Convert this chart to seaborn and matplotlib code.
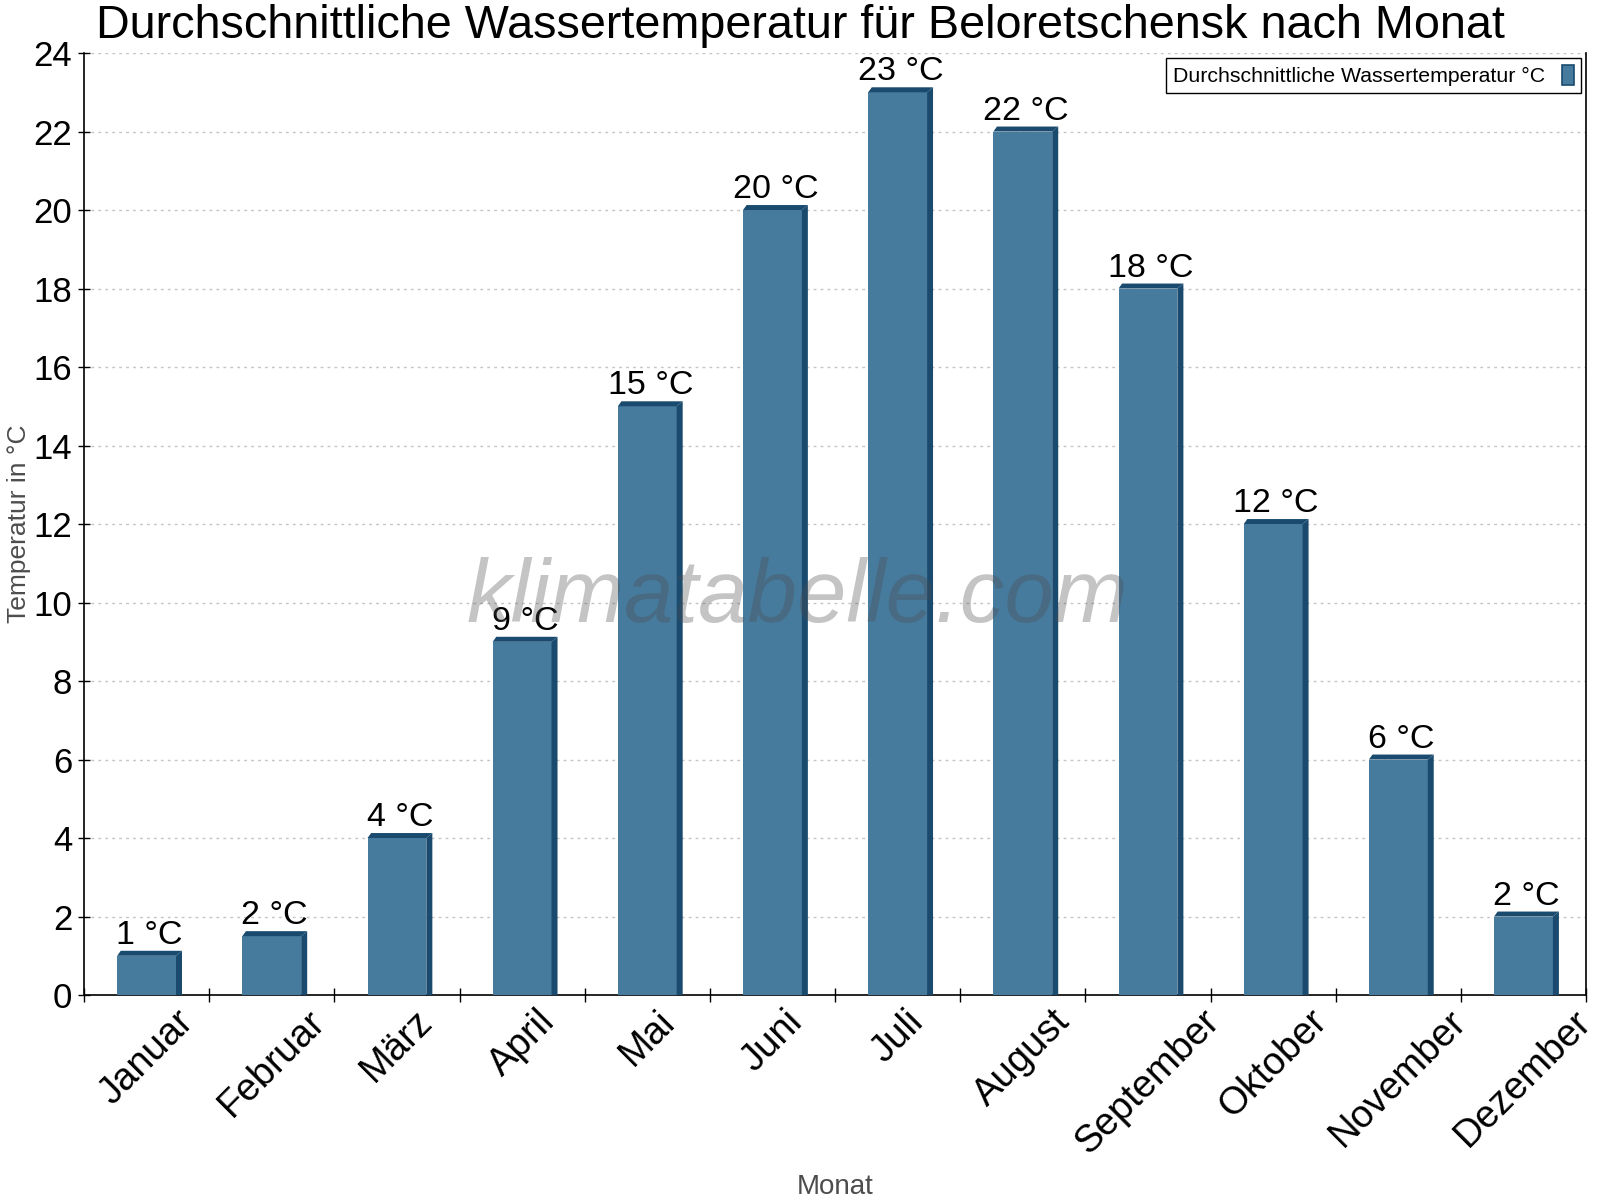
import numpy as np
import pandas as pd
import matplotlib
matplotlib.use("Agg")
import matplotlib.pyplot as plt
import seaborn as sns
from matplotlib.patches import Polygon, Patch

months = ["Januar", "Februar", "März", "April", "Mai", "Juni", "Juli",
          "August", "September", "Oktober", "November", "Dezember"]
water_temp = [1, 1.5, 4, 9, 15, 20, 23, 22, 18, 12, 6, 2]
bar_labels = ["1 °C", "2 °C", "4 °C", "9 °C", "15 °C", "20 °C", "23 °C",
              "22 °C", "18 °C", "12 °C", "6 °C", "2 °C"]
y_ticks = [0, 2, 4, 6, 8, 10, 12, 14, 16, 18, 20, 22, 24]

title = "Durchschnittliche Wassertemperatur für Beloretschensk nach Monat"
series_name = "Durchschnittliche Wassertemperatur °C"

FRONT = "#467B9E"
DARK = "#1A4B6E"

sns.set_theme(style="white")
plt.rcParams["font.family"] = ["Liberation Sans", "DejaVu Sans"]
plt.rcParams["text.color"] = "black"
plt.rcParams["xtick.color"] = "black"
plt.rcParams["ytick.color"] = "black"

df = pd.DataFrame({"Monat": months, "Temp": water_temp})

fig = plt.figure(figsize=(16, 12), dpi=100)
ax = fig.add_axes([0.0525, 0.1708, 0.9388, 0.785])

sns.barplot(data=df, x="Monat", y="Temp", color=FRONT, saturation=1,
            width=0.47, ax=ax, zorder=3, linewidth=0, edgecolor="none")

ax.set_xlim(-0.5, 11.5)
ax.set_ylim(0, 24)

# 3D effect: top and side faces derived from the drawn bars
fig.canvas.draw()
to_data = ax.transData.inverted()
(dx0, dy0) = to_data.transform((0, 0))
(dx1, dy1) = to_data.transform((6, 5))
dx = dx1 - dx0
dy = dy1 - dy0
for p in list(ax.patches):
    x0 = p.get_x()
    w = p.get_width()
    h = p.get_height()
    x1 = x0 + w
    top = Polygon([(x0, h), (x0 + dx * 0.6, h + dy), (x1 + dx, h + dy), (x1, h)],
                  closed=True, facecolor=DARK, edgecolor="none", zorder=3)
    side = Polygon([(x1, 0), (x1, h), (x1 + dx, h + dy), (x1 + dx, 0)],
                   closed=True, facecolor=DARK, edgecolor="none", zorder=3)
    ax.add_patch(top)
    ax.add_patch(side)

for i, (v, lab) in enumerate(zip(water_temp, bar_labels)):
    ax.annotate(lab, xy=(i, v), xytext=(3, 5), textcoords="offset pixels",
                ha="center", va="bottom", fontsize=24.5, color="black", zorder=5)

# grid
ax.set_yticks(y_ticks)
ax.yaxis.grid(True, color="#c4c4c4", linestyle=(0, (2, 3)), linewidth=1, zorder=0)
ax.xaxis.grid(False)
ax.set_axisbelow(True)

# spines
for s in ["left", "bottom", "right"]:
    ax.spines[s].set_visible(True)
    ax.spines[s].set_color("black")
    ax.spines[s].set_linewidth(1.2)
ax.spines["top"].set_visible(False)

# ticks
ax.tick_params(axis="y", which="major", direction="inout", length=9, width=1,
               color="black", labelcolor="black", labelsize=25, left=True, pad=4)
ax.tick_params(axis="x", which="major", length=0, labelsize=27.5, pad=6,
               labelcolor="black")
ax.set_xticks(np.arange(-0.5, 12, 1), minor=True)
ax.tick_params(axis="x", which="minor", direction="inout", length=10, width=1,
               color="black", bottom=True)
for t in ax.get_xticklabels():
    t.set_rotation(45)
    t.set_ha("center")

ax.set_xlabel("Monat", fontsize=20, color="#4d4d4d")
ax.set_ylabel("Temperatur in °C", fontsize=19, color="#4d4d4d")
ax.xaxis.set_label_coords(0.5, -0.19)
ax.yaxis.set_label_coords(-0.043, 0.5)
ax.yaxis.label.set_va("center")

fig.suptitle(title, x=0.5, y=0.997, va="top", fontsize=33.7, color="black")

# watermark
ax.text(0.475, 0.42, "klimatabelle.com", transform=ax.transAxes, fontsize=64,
        style="italic", color=(0.3, 0.3, 0.3), alpha=0.33, ha="center",
        va="center", zorder=6)

leg = ax.legend(handles=[Patch(facecolor=FRONT, edgecolor=DARK, linewidth=1.2)],
                labels=[series_name], loc="upper right", markerfirst=False,
                fancybox=False, edgecolor="black", framealpha=1, fontsize=15.3,
                handlelength=0.6, handleheight=1.1, borderaxespad=0.25,
                borderpad=0.3, handletextpad=0.8)
leg.get_frame().set_linewidth(1.0)

fig.savefig("out.png", dpi=100)
